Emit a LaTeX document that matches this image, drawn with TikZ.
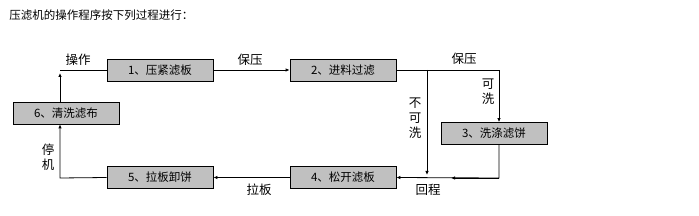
\documentclass[tikz,border=0pt]{standalone}
\usepackage{fontspec}
\newfontfamily\cjk{Noto Sans CJK SC}
\usepackage{tikz}
\usetikzlibrary{calc,positioning,arrows.meta}
\definecolor{boxgray}{RGB}{192,192,192}

\begin{document}
\begin{tikzpicture}[x=1pt,y=-1pt,line width=0.8pt,
  stepbox/.style={draw,fill=boxgray,minimum width=106pt,minimum height=22pt,inner sep=0pt,font=\cjk\fontsize{11.5}{13}\selectfont},
  lbl/.style={font=\cjk\fontsize{12.5}{15}\selectfont,align=center,inner sep=0pt},
  arr/.style={-{Latex[length=4pt,width=3.5pt]}}]
\useasboundingbox (0,0) rectangle (699,216);
\node[anchor=west,font=\cjk\fontsize{11.5}{13}\selectfont,inner sep=0pt] (title) at (9,15) {压滤机的操作程序按下列过程进行：};
\node[stepbox] (b1) at (160,70) {1、压紧滤板};
\node[stepbox] (b2) at (343,70) {2、进料过滤};
\node[stepbox] (b3) at (494,133.5) {3、洗涤滤饼};
\node[stepbox] (b4) at (343,177.5) {4、松开滤板};
\node[stepbox] (b5) at (160,177.5) {5、拉板卸饼};
\node[stepbox] (b6) at (66,113) {6、清洗滤布};
\coordinate (c61) at (60,70);
\coordinate (c23) at (499,70);
\coordinate (cfork) at (427,70);
\coordinate (cret) at (427,178);
\coordinate (c34) at (499,178);
\coordinate (cmid) at (451,178);
\coordinate (c56) at (60,178);
\draw[arr,shorten >=3pt] (b6.north -| c61) -- (c61);
\draw (c61) -- (b1.west);
\draw[arr] (b1.east) -- (b2.west);
\draw[arr] (b2.east) -- (c23) -- (b3.north -| c23);
\draw[arr,shorten >=3pt] (cfork) -- (cret);
\draw[arr] (b3.south -| c34) -- (c34) -- (b4.east);
\draw[arr] (c34) -- (cmid);
\draw[arr] (b4.west) -- (b5.east);
\draw[arr] (b5.west) -- (c56) -- (b6.south -| c56);
\node[lbl] (l61) at (78,60) {操作};
\node[lbl] (l12) at (250,60) {保压};
\node[lbl] (l23) at (464,59) {保压};
\node[lbl] (lwash) at (488,92) {可\\洗};
\node[lbl] (lnowash) at (415,118) {不\\可\\洗};
\node[lbl] (l34) at (428,190) {回程};
\node[lbl] (l45) at (259,190) {拉板};
\node[lbl] (l56) at (48,157) {停\\机};
\end{tikzpicture}
\end{document}
